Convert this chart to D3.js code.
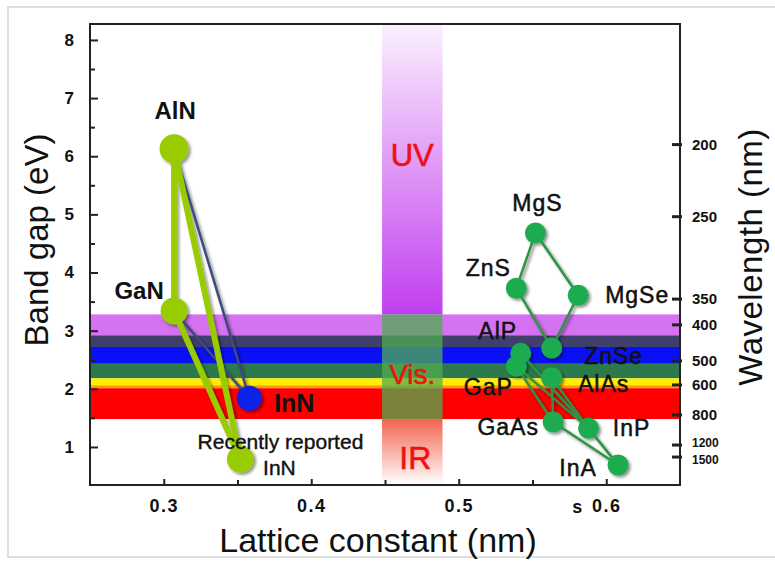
<!DOCTYPE html>
<html>
<head>
<meta charset="utf-8">
<script src="https://cdn.jsdelivr.net/npm/d3@7"></script>
<style>
  body { margin: 0; background: #fff; }
  svg { display: block; font-family: Arial, "Liberation Sans", sans-serif; }
</style>
</head>
<body>
<svg id="chart" width="775" height="561"></svg>
<script>
// ---- data ----
// nitride group (lime points)
const nitrideNames = ["AlN", "GaN", "InN*"];
const nitrideLattice = [0.307, 0.307, 0.352];
const nitrideGap = [6.13, 3.34, 0.79];
// InN (blue point)
const inNLattice = 0.358;
const inNGap = 1.84;
const limeLinks = [["AlN", "GaN"], ["AlN", "InN*"], ["GaN", "InN*"]];
const navyLinks = [["AlN", "InN"], ["GaN", "InN"]];

// II-VI / III-V group (green points)
const compoundNames = ["MgS", "ZnS", "MgSe", "ZnSe", "AlP", "GaP", "AlAs", "GaAs", "InP", "InAs"];
const compoundLattice = [0.552, 0.539, 0.581, 0.563, 0.542, 0.539, 0.563, 0.564, 0.588, 0.608];
const compoundGap = [4.68, 3.73, 3.61, 2.70, 2.61, 2.39, 2.19, 1.43, 1.32, 0.69];
const compoundLinks = [
  ["ZnS", "MgS"], ["MgS", "MgSe"], ["MgSe", "ZnSe"], ["ZnS", "ZnSe"],
  ["AlP", "GaP"], ["AlP", "InP"], ["GaP", "InP"], ["GaP", "GaAs"],
  ["AlAs", "GaAs"], ["AlAs", "InP"], ["GaAs", "InAs"], ["InP", "InAs"]
];

// colour bands (eV)
const bandLow = [2.92, 2.72, 2.43, 2.18, 2.06, 2.01, 1.48];
const bandHigh = [3.28, 2.92, 2.72, 2.43, 2.18, 2.06, 2.01];
const bandColors = ["#d472f2", "#3f3f6c", "#0a10f5", "#2c7a4c", "#ffee00", "#ff9a00", "#ff0000"];

// vertical spectrum stripe (lattice constant, nm) and region limits (eV)
const stripeLattice = [0.448, 0.489];
const visRange = [1.48, 3.28];

const yTicks = [1, 2, 3, 4, 5, 6, 7, 8];
const yMinor = [1.5, 2.5, 3.5, 4.5, 5.5, 6.5, 7.5];
const xTicks = [0.3, 0.4, 0.5, 0.6];
const xMinor = [0.35, 0.45, 0.55];
const wavelengths = [200, 250, 350, 400, 500, 600, 800, 1200, 1500];

// ---- layout ----
const svg = d3.select("#chart");
const margin = { top: 24, right: 95, bottom: 76, left: 90 };
const width = 775, height = 561;

const x = d3.scaleLinear().domain([0.25, 0.65]).range([margin.left, width - margin.right]);
const y = d3.scaleLinear().domain([0.346, 8.274]).range([height - margin.bottom, margin.top]);

const defs = svg.append("defs");
const uvGrad = defs.append("linearGradient").attr("id", "uvGrad")
  .attr("x1", 0).attr("y1", 0).attr("x2", 0).attr("y2", 1);
uvGrad.append("stop").attr("offset", "0%").attr("stop-color", "#fbf0fe");
uvGrad.append("stop").attr("offset", "45%").attr("stop-color", "#e2a0f6");
uvGrad.append("stop").attr("offset", "100%").attr("stop-color", "#c13ef0");
const irGrad = defs.append("linearGradient").attr("id", "irGrad")
  .attr("x1", 0).attr("y1", 0).attr("x2", 0).attr("y2", 1);
irGrad.append("stop").attr("offset", "0%").attr("stop-color", "#f26450");
irGrad.append("stop").attr("offset", "100%").attr("stop-color", "#ffffff");
const shadow = defs.append("filter").attr("id", "shadow")
  .attr("x", "-30%").attr("y", "-30%").attr("width", "160%").attr("height", "160%");
shadow.append("feDropShadow").attr("dx", 2).attr("dy", 2)
  .attr("stdDeviation", 1.6).attr("flood-color", "#000").attr("flood-opacity", 0.45);

// outer frame
svg.append("rect").attr("x", 8).attr("y", 7).attr("width", 780).attr("height", 550)
  .attr("fill", "none").attr("stroke", "#d4d4d4").attr("stroke-width", 1.5);

// horizontal colour bands
svg.append("g").selectAll("rect")
  .data(bandColors)
  .join("rect")
  .attr("x", x(0.25))
  .attr("width", x(0.65) - x(0.25))
  .attr("y", (d, i) => y(bandHigh[i]))
  .attr("height", (d, i) => y(bandLow[i]) - y(bandHigh[i]))
  .attr("fill", d => d);

// vertical stripe: UV, Vis., IR
const sx0 = x(stripeLattice[0]), sw = x(stripeLattice[1]) - x(stripeLattice[0]);
svg.append("rect").attr("x", sx0).attr("width", sw)
  .attr("y", y(8.274)).attr("height", y(visRange[1]) - y(8.274))
  .attr("fill", "url(#uvGrad)");
svg.append("rect").attr("x", sx0).attr("width", sw)
  .attr("y", y(visRange[1])).attr("height", y(visRange[0]) - y(visRange[1]))
  .attr("fill", "#4fae50").attr("opacity", 0.75);
svg.append("rect").attr("x", sx0).attr("width", sw)
  .attr("y", y(visRange[0])).attr("height", y(0.346) - y(visRange[0]))
  .attr("fill", "url(#irGrad)");

const midStripe = sx0 + sw / 2;
[["UV", 6.03, 31], ["Vis.", 2.25, 28], ["IR", 0.82, 32]].forEach(([t, v, fs]) => {
  svg.append("text")
    .attr("x", midStripe + (t === "IR" ? 3 : 0))
    .attr("y", y(v) + fs * 0.36)
    .attr("text-anchor", "middle")
    .attr("fill", "#f01010")
    .attr("stroke", "#f01010").attr("stroke-width", 0.6)
    .style("font-size", fs + "px")
    .text(t);
});

// axes frame
const axisColor = "#222";
svg.append("rect")
  .attr("x", x(0.25)).attr("y", y(8.274))
  .attr("width", x(0.65) - x(0.25)).attr("height", y(0.346) - y(8.274))
  .attr("fill", "none").attr("stroke", axisColor).attr("stroke-width", 2);

// left axis (ticks inside)
svg.append("g").attr("transform", `translate(${x(0.25)},0)`)
  .call(d3.axisLeft(y).tickValues(yTicks).tickSize(-8).tickPadding(16).tickFormat(d3.format("d")));
svg.append("g").attr("transform", `translate(${x(0.25)},0)`)
  .call(d3.axisLeft(y).tickValues(yMinor).tickSize(-5).tickFormat(""));

// bottom axis (ticks inside)
const xAxis = svg.append("g").attr("transform", `translate(0,${y(0.346)})`)
  .call(d3.axisBottom(x).tickValues(xTicks).tickSize(-6).tickPadding(14).tickFormat(d3.format(".1f")));
svg.append("g").attr("transform", `translate(0,${y(0.346)})`)
  .call(d3.axisBottom(x).tickValues(xMinor).tickSize(-5).tickFormat(""));

// right axis: wavelength (nm) placed at E = 1240 / lambda
const rightAxis = svg.append("g").attr("transform", `translate(${x(0.65)},0)`);
rightAxis.selectAll("line")
  .data(wavelengths)
  .join("line")
  .attr("x1", -8).attr("x2", 2)
  .attr("y1", d => y(1240 / d)).attr("y2", d => y(1240 / d))
  .attr("stroke", axisColor).attr("stroke-width", 3);
rightAxis.selectAll("text")
  .data(wavelengths)
  .join("text")
  .attr("x", 12)
  .attr("y", d => y(1240 / d) + (d === 1200 ? -2 : d === 1500 ? 3 : 0))
  .attr("dy", "0.35em")
  .attr("fill", "#111")
  .style("font-weight", "bold")
  .style("font-size", d => (d >= 1000 ? 12 : 15) + "px")
  .text(d => d);

svg.selectAll(".domain").remove();
svg.selectAll(".tick line").attr("stroke", axisColor).attr("stroke-width", 2);
svg.selectAll(".tick text").attr("fill", "#111")
  .style("font-weight", "bold").style("font-size", "17px");
xAxis.selectAll(".tick text").style("font-size", "18px").style("letter-spacing", "1.5px");

// stray "s" by the 0.6 tick
svg.append("text")
  .attr("x", x(0.6) - 29).attr("y", y(0.346) + 28)
  .attr("text-anchor", "middle").attr("fill", "#111")
  .style("font-weight", "bold").style("font-size", "18px")
  .text("s");

// axis titles
svg.append("text")
  .attr("transform", `translate(48,${240}) rotate(-90)`)
  .attr("text-anchor", "middle").attr("fill", "#111")
  .style("font-size", "33px")
  .text("Band gap (eV)");
svg.append("text")
  .attr("x", (x(0.25) + x(0.65)) / 2 - 7).attr("y", 552)
  .attr("text-anchor", "middle").attr("fill", "#111")
  .style("font-size", "34px")
  .text("Lattice constant (nm)");
svg.append("text")
  .attr("transform", `translate(762,${257}) rotate(-90)`)
  .attr("text-anchor", "middle").attr("fill", "#111")
  .style("font-size", "33px").style("letter-spacing", "0.5px")
  .text("Wavelength (nm)");

// ---- nitride group ----
const nitridePos = {};
nitrideNames.forEach((n, i) => nitridePos[n] = [nitrideLattice[i], nitrideGap[i]]);
nitridePos["InN"] = [inNLattice, inNGap];

const nitrideG = svg.append("g").attr("filter", "url(#shadow)");
nitrideG.selectAll(".navy")
  .data(navyLinks)
  .join("line")
  .attr("x1", d => x(nitridePos[d[0]][0])).attr("y1", d => y(nitridePos[d[0]][1]))
  .attr("x2", d => x(nitridePos[d[1]][0])).attr("y2", d => y(nitridePos[d[1]][1]))
  .attr("stroke", "#3b4c7c").attr("stroke-width", 2.5);
nitrideG.selectAll(".lime")
  .data(limeLinks)
  .join("line")
  .attr("x1", d => x(nitridePos[d[0]][0])).attr("y1", d => y(nitridePos[d[0]][1]))
  .attr("x2", d => x(nitridePos[d[1]][0])).attr("y2", d => y(nitridePos[d[1]][1]))
  .attr("stroke", "#99cc00").attr("stroke-width", 6);
nitrideG.append("circle")
  .attr("cx", x(inNLattice)).attr("cy", y(inNGap)).attr("r", 12.5)
  .attr("fill", "#1020e8");
nitrideG.selectAll(".limept")
  .data(nitrideNames)
  .join("circle")
  .attr("cx", (d, i) => x(nitrideLattice[i]))
  .attr("cy", (d, i) => y(nitrideGap[i]))
  .attr("r", (d, i) => (i === 0 ? 14.5 : 13.5))
  .attr("fill", "#99cc00");

// nitride labels (offsets in px from the point)
const nitrideLabels = [
  { name: "AlN", text: "AlN", dx: 1, dy: -38, size: 24, bold: true },
  { name: "GaN", text: "GaN", dx: -35, dy: -21, size: 24, bold: true },
  { name: "InN", text: "InN", dx: 45, dy: 5, size: 25, bold: true },
  { name: "InN*", text: "Recently reported", dx: 40, dy: -18, size: 21, bold: false },
  { name: "InN*", text: "InN", dx: 39, dy: 8, size: 21, bold: false }
];
svg.append("g").selectAll("text")
  .data(nitrideLabels)
  .join("text")
  .attr("x", d => x(nitridePos[d.name][0]) + d.dx)
  .attr("y", d => y(nitridePos[d.name][1]) + d.dy)
  .attr("dy", "0.36em")
  .attr("text-anchor", "middle")
  .attr("fill", "#111")
  .attr("stroke", d => (d.bold ? "none" : "#111")).attr("stroke-width", 0.4)
  .style("font-size", d => d.size + "px")
  .style("font-weight", d => (d.bold ? "bold" : "normal"))
  .text(d => d.text);

// ---- II-VI / III-V group ----
const compoundPos = {};
compoundNames.forEach((n, i) => compoundPos[n] = [compoundLattice[i], compoundGap[i]]);

const compG = svg.append("g").attr("filter", "url(#shadow)");
compG.selectAll("line")
  .data(compoundLinks)
  .join("line")
  .attr("x1", d => x(compoundPos[d[0]][0])).attr("y1", d => y(compoundPos[d[0]][1]))
  .attr("x2", d => x(compoundPos[d[1]][0])).attr("y2", d => y(compoundPos[d[1]][1]))
  .attr("stroke", "#2f9444").attr("stroke-width", 2.5);
compG.selectAll("circle")
  .data(compoundNames)
  .join("circle")
  .attr("cx", (d, i) => x(compoundLattice[i]))
  .attr("cy", (d, i) => y(compoundGap[i]))
  .attr("r", 10.5)
  .attr("fill", "#1fab50");

const compoundLabels = [
  { name: "MgS", text: "MgS", dx: 2, dy: -30 },
  { name: "ZnS", text: "ZnS", dx: -28, dy: -21 },
  { name: "MgSe", text: "MgSe", dx: 59, dy: 0 },
  { name: "ZnSe", text: "ZnSe", dx: 62, dy: 8 },
  { name: "AlP", text: "AlP", dx: -23, dy: -23 },
  { name: "GaP", text: "GaP", dx: -28, dy: 21 },
  { name: "AlAs", text: "AlAs", dx: 52, dy: 6 },
  { name: "GaAs", text: "GaAs", dx: -45, dy: 5 },
  { name: "InP", text: "InP", dx: 43, dy: -1 },
  { name: "InAs", text: "InA", dx: -40, dy: 3 }
];
svg.append("g").selectAll("text")
  .data(compoundLabels)
  .join("text")
  .attr("x", d => x(compoundPos[d.name][0]) + d.dx)
  .attr("y", d => y(compoundPos[d.name][1]) + d.dy)
  .attr("dy", "0.36em")
  .attr("text-anchor", "middle")
  .attr("fill", "#111")
  .attr("stroke", "#111").attr("stroke-width", 0.5)
  .style("font-size", "23px")
  .style("letter-spacing", "1px")
  .text(d => d.text);
</script>
</body>
</html>
